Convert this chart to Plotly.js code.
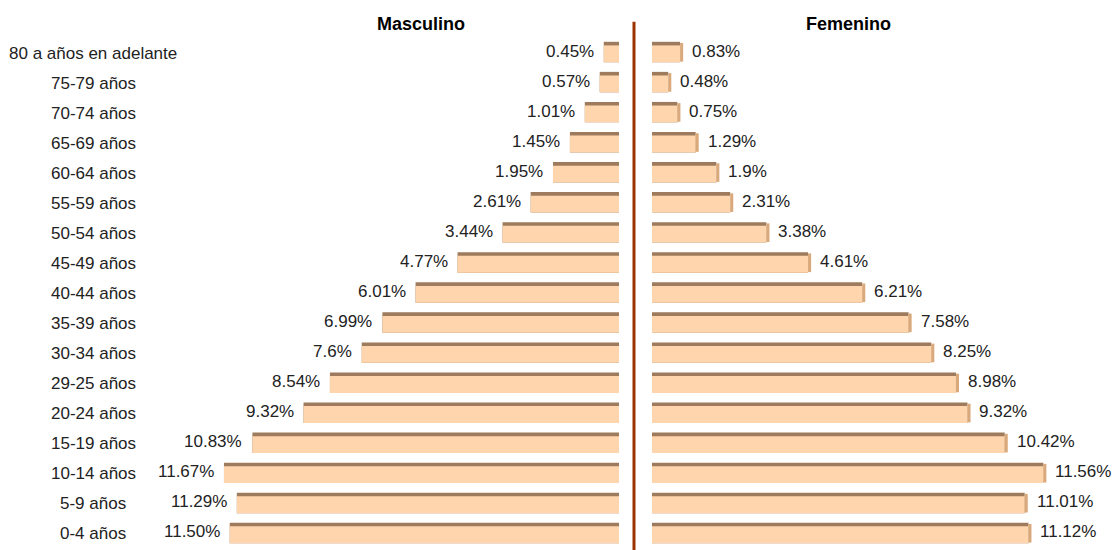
<!DOCTYPE html>
<html>
<head>
<meta charset="utf-8">
<script src="https://cdn.plot.ly/plotly-3.0.1.min.js"></script>
<style>html,body{margin:0;padding:0;background:#fff;}#chart{width:1113px;height:550px;}</style>
</head>
<body>
<div id="chart"></div>
<script>
const categorias = ["80 a años en adelante","75-79 años","70-74 años","65-69 años","60-64 años","55-59 años","50-54 años","45-49 años","40-44 años","35-39 años","30-34 años","29-25 años","20-24 años","15-19 años","10-14 años","5-9 años","0-4 años"];
const masculino = [0.45,0.57,1.01,1.45,1.95,2.61,3.44,4.77,6.01,6.99,7.6,8.54,9.32,10.83,11.67,11.29,11.50];
const femenino = [0.83,0.48,0.75,1.29,1.9,2.31,3.38,4.61,6.21,7.58,8.25,8.98,9.32,10.42,11.56,11.01,11.12];
const etiquetasM = ["0.45%","0.57%","1.01%","1.45%","1.95%","2.61%","3.44%","4.77%","6.01%","6.99%","7.6%","8.54%","9.32%","10.83%","11.67%","11.29%","11.50%"];
const etiquetasF = ["0.83%","0.48%","0.75%","1.29%","1.9%","2.31%","3.38%","4.61%","6.21%","7.58%","8.25%","8.98%","9.32%","10.42%","11.56%","11.01%","11.12%"];
const titulos = ["Masculino","Femenino"];

const W = 1113, H = 550;
const topC = "#9E7B5C", bodyC = "#FFD5AD", sideC = "#D9A97C";
const font = "Liberation Sans, Arial, sans-serif";

function barPair(vals, xa) {
  return [
    {type:"bar", orientation:"h", y:categorias, x:vals, xaxis:xa, yaxis:"y",
     width:0.68, offset:-0.34, marker:{color:topC}, hoverinfo:"skip", showlegend:false},
    {type:"bar", orientation:"h", y:categorias, x:vals, xaxis:xa, yaxis:"y",
     width:0.56, offset:-0.22, marker:{color:bodyC}, hoverinfo:"skip", showlegend:false}
  ];
}

const traces = [...barPair(masculino, "x"), ...barPair(femenino, "x2"),
  {type:"bar", orientation:"h", y:categorias, x:femenino.map(()=>0.09), base:femenino,
   xaxis:"x2", yaxis:"y", width:0.62, offset:-0.3, marker:{color:sideC},
   hoverinfo:"skip", showlegend:false}
];

const annotations = [];
categorias.forEach((c,i)=>{
  annotations.push({text:c, xref:"paper", yref:"y", x:93/W, y:c, xanchor:"center", yanchor:"middle",
    yshift:-1, showarrow:false, font:{family:font, size:17, color:"#222"}});
  annotations.push({text:etiquetasM[i], xref:"x", yref:"y", x:masculino[i], y:c, xanchor:"right",
    yanchor:"middle", xshift:-8, yshift:1, showarrow:false, font:{family:font, size:17, color:"#222"}});
  annotations.push({text:etiquetasF[i], xref:"x2", yref:"y", x:femenino[i], y:c, xanchor:"left",
    yanchor:"middle", xshift:10, yshift:1, showarrow:false, font:{family:font, size:17, color:"#222"}});
});
annotations.push({text:"<b>"+titulos[0]+"</b>", xref:"paper", yref:"paper", x:421/W, y:1.025,
  xanchor:"center", yanchor:"middle", showarrow:false, font:{family:font, size:18, color:"#000"}});
annotations.push({text:"<b>"+titulos[1]+"</b>", xref:"paper", yref:"paper", x:848/W, y:1.025,
  xanchor:"center", yanchor:"middle", showarrow:false, font:{family:font, size:18, color:"#000"}});

const pxPer = 33.85;
const layout = {
  width:W, height:H, margin:{l:0, r:0, t:37, b:2},
  paper_bgcolor:"#fff", plot_bgcolor:"#fff",
  barmode:"overlay", showlegend:false,
  xaxis:{domain:[190/W, 619/W], range:[(619-190)/pxPer, 0], showgrid:false, zeroline:false,
    showticklabels:false, showline:false, anchor:"y", fixedrange:true},
  xaxis2:{domain:[652/W, 1], range:[0, (W-652)/pxPer], showgrid:false, zeroline:false,
    showticklabels:false, showline:false, anchor:"y", fixedrange:true},
  yaxis:{type:"category", categoryarray:categorias, range:[16.5, -0.5], showgrid:false,
    zeroline:false, showticklabels:false, showline:false, fixedrange:true},
  shapes:[{type:"line", xref:"paper", yref:"paper", x0:634/W, x1:634/W, y0:-0.01, y1:1.03,
    line:{color:"#993300", width:3}}],
  annotations:annotations
};

Plotly.newPlot("chart", traces, layout, {staticPlot:true, displayModeBar:false});
</script>
</body>
</html>
